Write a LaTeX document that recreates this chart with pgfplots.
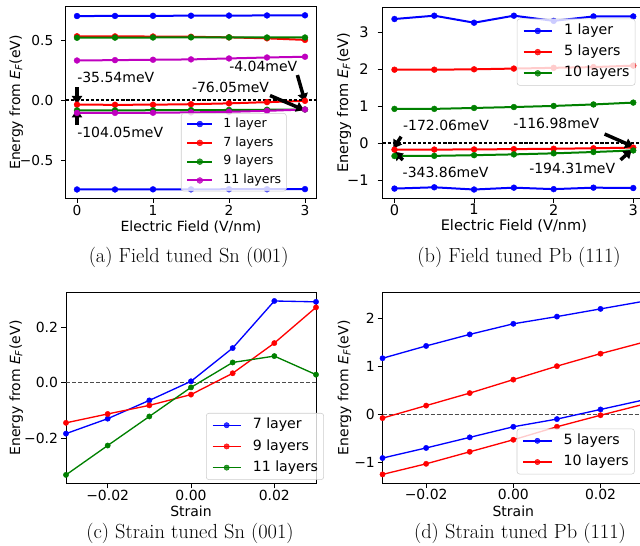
\documentclass[border=0pt]{standalone}
\usepackage{pgfplots}
\pgfplotsset{compat=1.18}
\usepackage{fontspec}
\newfontfamily\dv{DejaVu Sans}
\usetikzlibrary{arrows.meta}
\definecolor{mblue}{rgb}{0,0,1}
\definecolor{mred}{rgb}{1,0,0}
\definecolor{mgreen}{rgb}{0,0.5,0}
\definecolor{mmag}{rgb}{0.75,0,0.75}
\definecolor{legframe}{rgb}{0.8,0.8,0.8}
\tikzset{
  arr/.style={black, line width=2.6pt, -{Triangle[length=6pt,width=7.5pt]}},
  ann/.style={anchor=base west, inner sep=0pt, font=\dv\fontsize{10.5}{12}\selectfont},
}
\pgfplotsset{
  base/.style={
    overlay,
    scale only axis,
    axis line style={line width=0.6pt},
    tick align=outside,
    tick pos=left,
    major tick length=3.6pt,
    every tick/.style={black, line width=0.6pt},
    minor tick num=0,
    scaled x ticks=false, scaled y ticks=false,
    legend cell align=left,
    xticklabel style={anchor=north, inner sep=0pt},
    yticklabel style={anchor=east, inner sep=0pt},
    label style={font=\dv\fontsize{10.5}{12}\selectfont},
  },
  lk/.style={color=#1, line width=1.5pt, mark=*, mark size=2.2pt, mark options={line width=0.3pt, fill=#1, solid}},
  ln/.style={color=#1, line width=1pt, mark=*, mark size=2pt, mark options={line width=0.3pt, fill=#1, solid}},
  legA/.style={legend style={draw=legframe, fill=white, fill opacity=0.8, text opacity=1, rounded corners=2pt,
      font=\dv\fontsize{9.4}{9.4}\selectfont, inner xsep=3.8pt, inner ysep=3.3pt, row sep=4.7pt,
      nodes={inner sep=0pt, text height=7.1pt, text depth=2.3pt},
      /tikz/every odd column/.style={column sep=7.5pt}},
    legend image code/.code={\draw[mark repeat=2,mark phase=2] plot coordinates {(0pt,0pt) (9.4pt,0pt) (18.8pt,0pt)};}},
  legB/.style={legend style={draw=legframe, fill=white, fill opacity=0.8, text opacity=1, rounded corners=2pt,
      font=\dv\fontsize{10.6}{10.6}\selectfont, inner xsep=4.2pt, inner ysep=3.7pt, row sep=5.3pt,
      nodes={inner sep=0pt, text height=8pt, text depth=2.6pt},
      /tikz/every odd column/.style={column sep=8.5pt}},
    legend image code/.code={\draw[mark repeat=2,mark phase=2] plot coordinates {(0pt,0pt) (10.6pt,0pt) (21.2pt,0pt)};}},
}
\begin{document}
\begin{tikzpicture}
\useasboundingbox (0,0) rectangle (480pt,-409.5pt);
\clip (0,0) rectangle (480pt,-409.5pt);

% (a)
\begin{axis}[base, at={(49.2pt,-148.6pt)}, anchor=south west, width=188.1pt, height=143.6pt,
  xmin=-0.15, xmax=3.15, ymin=-0.812, ymax=0.778,
  xtick={0,1,2,3}, xticklabels={0,1,2,3},
  ytick={-0.5,0,0.5}, yticklabels={−0.5,0.0,0.5},
  tick label style={font=\dv\fontsize{10.3}{12}\selectfont},
  xticklabel style={yshift=-1.8pt}, yticklabel style={xshift=-5.4pt},
  xlabel={Electric Field (V/nm)}, ylabel={Energy from \textit{E}\textsubscript{\textit{F}}(eV)},
  xlabel style={at={([yshift=-21.7pt]axis description cs:0.5,0)}, anchor=center},
  ylabel style={at={([xshift=-37pt]axis description cs:0,0.5)}, anchor=center},
  legA, legend style={at={(0.46,0.444)}, anchor=north west}]
\addplot[lk=mblue] coordinates {(0,0.700) (0.5,0.701) (1,0.702) (1.5,0.703) (2,0.704) (2.5,0.705) (3,0.706)};
\addlegendentry{1 layer}
\addplot[lk=mblue, forget plot] coordinates {(0,-0.740) (0.5,-0.740) (1,-0.739) (1.5,-0.739) (2,-0.738) (2.5,-0.738) (3,-0.737)};
\addplot[lk=mred] coordinates {(0,0.532) (0.5,0.531) (1,0.530) (1.5,0.528) (2,0.523) (2.5,0.515) (3,0.502)};
\addlegendentry{7 layers}
\addplot[lk=mred, forget plot] coordinates {(0,-0.0355) (0.5,-0.037) (1,-0.036) (1.5,-0.032) (2,-0.025) (2.5,-0.015) (3,-0.004)};
\addplot[lk=mgreen] coordinates {(0,0.520) (0.5,0.521) (1,0.522) (1.5,0.523) (2,0.523) (2.5,0.522) (3,0.522)};
\addlegendentry{9 layers}
\addplot[lk=mgreen, forget plot] coordinates {(0,-0.083) (0.5,-0.083) (1,-0.082) (1.5,-0.081) (2,-0.080) (2.5,-0.078) (3,-0.076)};
\addplot[lk=mmag] coordinates {(0,0.331) (0.5,0.334) (1,0.337) (1.5,0.340) (2,0.348) (2.5,0.356) (3,0.362)};
\addlegendentry{11 layers}
\addplot[lk=mmag, forget plot] coordinates {(0,-0.104) (0.5,-0.104) (1,-0.103) (1.5,-0.100) (2,-0.095) (2.5,-0.087) (3,-0.076)};
\addplot[black, line width=1.4pt, dash pattern=on 2.4pt off 1.4pt, forget plot] coordinates {(-0.15,0) (3.15,0)};
\node[ann] at (axis cs:0,0.146) {-35.54meV};
\draw[arr] (axis cs:0,0.11) -- (axis cs:0,-0.03);
\node[ann] at (axis cs:0,-0.31) {-104.05meV};
\draw[arr] (axis cs:0,-0.206) -- (axis cs:0,-0.075);
\node[ann] at (axis cs:2.0,0.24) {-4.04meV};
\draw[arr] (axis cs:2.90,0.21) -- (axis cs:3.0,-0.01);
\node[ann] at (axis cs:1.51,0.063) {-76.05meV};
\draw[arr] (axis cs:2.54,0.04) -- (axis cs:2.99,-0.08);
\end{axis}

% (b)
\begin{axis}[base, at={(286.9pt,-148.65pt)}, anchor=south west, width=197pt, height=143.4pt,
  xmin=-0.15, xmax=3.15, ymin=-1.485, ymax=3.685,
  xtick={0,1,2,3}, xticklabels={0,1,2,3},
  ytick={-1,0,1,2,3}, yticklabels={−1,0,1,2,3},
  tick label style={font=\dv\fontsize{10.9}{12}\selectfont},
  xticklabel style={yshift=-0.8pt}, yticklabel style={xshift=-6.7pt},
  xlabel={Electric Field (V/nm)}, ylabel={Energy from \textit{E}\textsubscript{\textit{F}}(eV)},
  label style={font=\dv\fontsize{10.9}{12}\selectfont},
  xlabel style={at={([yshift=-20.9pt]axis description cs:0.5,0)}, anchor=center},
  ylabel style={at={([xshift=-28.9pt]axis description cs:0,0.5)}, anchor=center},
  legB, legend style={at={(0.511,0.939)}, anchor=north west}]
\addplot[lk=mblue] coordinates {(0,3.36) (0.5,3.45) (1,3.26) (1.5,3.45) (2,3.31) (2.5,3.43) (3,3.43)};
\addlegendentry{1 layer}
\addplot[lk=mblue, forget plot] coordinates {(0,-1.225) (0.5,-1.19) (1,-1.25) (1.5,-1.20) (2,-1.24) (2.5,-1.20) (3,-1.21)};
\addplot[lk=mred] coordinates {(0,1.99) (0.5,1.99) (1,2.00) (1.5,2.02) (2,2.04) (2.5,2.06) (3,2.10)};
\addlegendentry{5 layers}
\addplot[lk=mred, forget plot] coordinates {(0,-0.172) (0.5,-0.170) (1,-0.166) (1.5,-0.158) (2,-0.148) (2.5,-0.135) (3,-0.117)};
\addplot[lk=mgreen] coordinates {(0,0.93) (0.5,0.93) (1,0.955) (1.5,0.98) (2,1.01) (2.5,1.05) (3,1.10)};
\addlegendentry{10 layers}
\addplot[lk=mgreen, forget plot] coordinates {(0,-0.344) (0.5,-0.340) (1,-0.322) (1.5,-0.300) (2,-0.272) (2.5,-0.236) (3,-0.194)};
\addplot[black, line width=1.4pt, dash pattern=on 2.4pt off 1.4pt, forget plot] coordinates {(-0.15,0) (3.15,0)};
\node[ann] at (axis cs:0.105,0.34) {-172.06meV};
\draw[arr] (axis cs:0.084,0.18) -- (axis cs:-0.013,-0.135);
\node[ann] at (axis cs:0.1,-0.93) {-343.86meV};
\draw[arr] (axis cs:0.105,-0.45) -- (axis cs:0,-0.227);
\node[ann] at (axis cs:1.49,0.405) {-116.98meV};
\draw[arr] (axis cs:2.64,0.25) -- (axis cs:3.0,-0.09);
\node[ann] at (axis cs:1.69,-0.81) {-194.31meV};
\draw[arr] (axis cs:2.84,-0.45) -- (axis cs:2.98,-0.18);
\end{axis}

% (c)
\begin{axis}[base, at={(49.5pt,-362.6pt)}, anchor=south west, width=187.5pt, height=143.3pt,
  xmin=-0.03, xmax=0.03, ymin=-0.364, ymax=0.326,
  xtick={-0.02,0,0.02}, xticklabels={−0.02,0.00,0.02},
  ytick={-0.2,0,0.2}, yticklabels={−0.2,0.0,0.2},
  tick label style={font=\dv\fontsize{10.45}{12}\selectfont},
  xticklabel style={yshift=-1.0pt}, yticklabel style={xshift=-2.2pt},
  xlabel={Strain}, ylabel={Energy from \textit{E}\textsubscript{\textit{F}}(eV)},
  xlabel style={at={([yshift=-20.6pt]axis description cs:0.5,0)}, anchor=center},
  ylabel style={at={([xshift=-37.3pt]axis description cs:0,0.5)}, anchor=center},
  legB, legend style={at={(0.56,0.369)}, anchor=north west}]
\addplot[black!70, line width=0.75pt, dash pattern=on 3pt off 1.5pt, forget plot] coordinates {(-0.03,0) (0.03,0)};
\addplot[ln=mblue] coordinates {(-0.03,-0.184) (-0.02,-0.130) (-0.01,-0.064) (0,0.005) (0.01,0.125) (0.02,0.295) (0.03,0.292)};
\addlegendentry{7 layer}
\addplot[ln=mred] coordinates {(-0.03,-0.145) (-0.02,-0.113) (-0.01,-0.082) (0,-0.043) (0.01,0.034) (0.02,0.143) (0.03,0.272)};
\addlegendentry{9 layers}
\addplot[ln=mgreen] coordinates {(-0.03,-0.333) (-0.02,-0.227) (-0.01,-0.122) (0,-0.017) (0.01,0.073) (0.02,0.096) (0.03,0.029)};
\addlegendentry{11 layers}
\end{axis}

% (d)
\begin{axis}[base, at={(286.9pt,-362.3pt)}, anchor=south west, width=196.2pt, height=142.9pt,
  xmin=-0.03, xmax=0.03, ymin=-1.43, ymax=2.53,
  xtick={-0.02,0,0.02}, xticklabels={−0.02,0.00,0.02},
  ytick={-1,0,1,2}, yticklabels={−1,0,1,2},
  tick label style={font=\dv\fontsize{10.45}{12}\selectfont},
  xticklabel style={yshift=-1.0pt}, yticklabel style={xshift=-2.0pt},
  xlabel={Strain}, ylabel={Energy from \textit{E}\textsubscript{\textit{F}}(eV)},
  xlabel style={at={([yshift=-20.9pt]axis description cs:0.5,0)}, anchor=center},
  ylabel style={at={([xshift=-28.5pt]axis description cs:0,0.5)}, anchor=center},
  legB, legend style={at={(0.513,0.286)}, anchor=north west}]
\addplot[black!70, line width=0.75pt, dash pattern=on 3pt off 1.5pt, forget plot] coordinates {(-0.03,0) (0.03,0)};
\addplot[ln=mblue] coordinates {(-0.03,1.164) (-0.02,1.42) (-0.01,1.66) (0,1.88) (0.01,2.03) (0.02,2.19) (0.03,2.35)};
\addlegendentry{5 layers}
\addplot[ln=mblue, forget plot] coordinates {(-0.03,-0.91) (-0.02,-0.70) (-0.01,-0.48) (0,-0.26) (0.01,-0.10) (0.02,0.10) (0.03,0.30)};
\addplot[ln=mred] coordinates {(-0.03,-0.08) (-0.02,0.18) (-0.01,0.44) (0,0.72) (0.01,1.00) (0.02,1.26) (0.03,1.50)};
\addlegendentry{10 layers}
\addplot[ln=mred, forget plot] coordinates {(-0.03,-1.25) (-0.02,-1.03) (-0.01,-0.78) (0,-0.53) (0.01,-0.26) (0.02,-0.02) (0.03,0.21)};
\end{axis}

\node[font=\fontsize{15.3}{18}\selectfont] at (141.5pt,-193.2pt) {(a) Field tuned Sn (001)};
\node[font=\fontsize{15.3}{18}\selectfont] at (389.25pt,-193.2pt) {(b) Field tuned Pb (111)};
\node[font=\fontsize{15.3}{18}\selectfont] at (142.5pt,-399.8pt) {(c) Strain tuned Sn (001)};
\node[font=\fontsize{15.3}{18}\selectfont] at (390pt,-399.8pt) {(d) Strain tuned Pb (111)};
\end{tikzpicture}
\end{document}
